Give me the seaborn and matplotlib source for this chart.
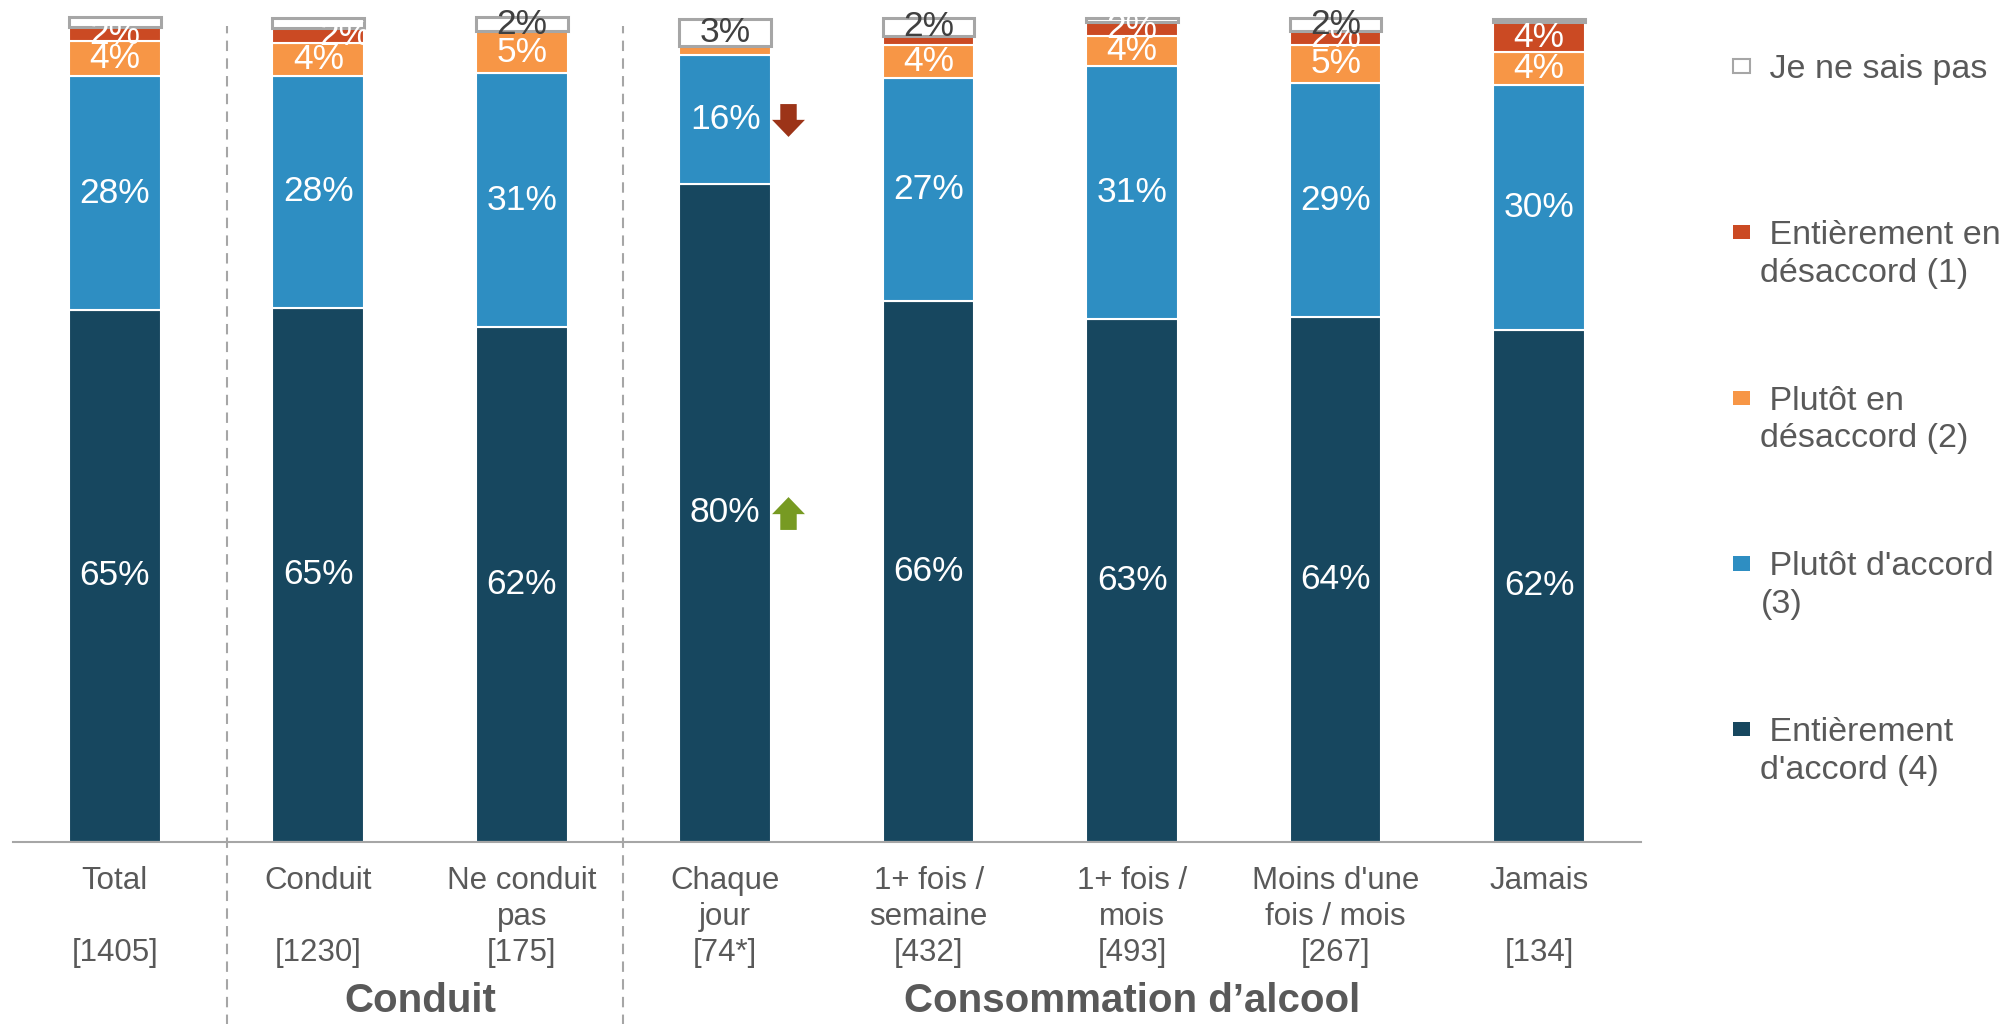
import numpy as np
import matplotlib
matplotlib.use("Agg")
import matplotlib.pyplot as plt
import matplotlib.patches as mpatches
import matplotlib.transforms as mtransforms
from matplotlib.path import Path
from matplotlib.legend_handler import HandlerPatch
import seaborn as sns

# Data (percent of respondents)
categories = ["Total", "Conduit", "Ne conduit pas", "Chaque jour",
              "1+ fois / semaine", "1+ fois / mois", "Moins d'une fois / mois", "Jamais"]
tick_labels = ["Total\n\n[1405]", "Conduit\n\n[1230]", "Ne conduit\npas\n[175]",
               "Chaque\njour\n[74*]", "1+ fois /\nsemaine\n[432]", "1+ fois /\nmois\n[493]",
               "Moins d'une\nfois / mois\n[267]", "Jamais\n\n[134]"]
entierement_accord = [64.5, 64.8, 62.4, 79.8, 65.6, 63.4, 63.6, 62.1]
plutot_accord = [28.4, 28.1, 30.9, 15.6, 27.0, 30.7, 28.5, 29.7]
plutot_desaccord = [4.2, 4.0, 5.0, 1.1, 4.0, 3.7, 4.6, 4.0]
entierement_desaccord = [1.7, 1.8, 0.0, 0.0, 1.2, 1.6, 1.7, 3.6]
ne_sais_pas = [1.2, 1.2, 1.7, 3.3, 2.1, 0.5, 1.5, 0.4]

series_names = ["Entièrement\nd'accord (4)", "Plutôt d'accord\n(3)", "Plutôt en\ndésaccord (2)",
                "Entièrement en\ndésaccord (1)", "Je ne sais pas\n"]
series_values = [entierement_accord, plutot_accord, plutot_desaccord,
                 entierement_desaccord, ne_sais_pas]
colors = ["#17475f", "#2e8ec2", "#f79646", "#cb4a23", "#ffffff"]

# groups below the axis: (label, first index, last index)
groups = [("Conduit", 1, 2), ("Consommation d\u2019alcool", 3, 7)]
separators = [0.55, 2.5]
# significance arrows: (category index, series index, direction)
signif = [(3, 1, "down"), (3, 0, "up")]

sns.set_style("white")
plt.rcParams["font.family"] = ["Liberation Sans", "DejaVu Sans"]
grey_txt = "#595959"

fig = plt.figure(figsize=(20.06, 10.24), dpi=100)
ax = fig.add_axes([0.0065, 0.178, 0.8115, 0.813])

bottom = np.zeros(len(categories))
for name, vals, col in zip(series_names, series_values, colors):
    vals = np.array(vals)
    white = col == "#ffffff"
    sns.barplot(x=categories, y=vals, bottom=bottom, color=col, saturation=1,
                width=0.45, errorbar=None, ax=ax,
                edgecolor="#a6a6a6" if white else "white",
                linewidth=2.2 if white else 1.5)
    for i, v in enumerate(vals):
        if v >= 1.5:
            dx = 0.13 if (categories[i] == "Conduit" and name.startswith("Entièrement en")) else 0
            ax.text(i + dx, bottom[i] + v / 2, f"{int(v + 0.5)}%", ha="center", va="center",
                    fontsize=25.5, color="#404040" if white else "white")
    bottom += vals

# significance arrows
down = Path([(-0.25, 0.5), (0.25, 0.5), (0.25, 0.02), (0.5, 0.02), (0, -0.5),
             (-0.5, 0.02), (-0.25, 0.02), (-0.25, 0.5)], closed=True)
up = Path([(x, -y) for x, y in down.vertices], closed=True)
for i, s, d in signif:
    base = sum(series_values[k][i] for k in range(s))
    yc = base + series_values[s][i] / 2
    ax.scatter([i + 0.31], [yc], marker=down if d == "down" else up, s=560,
               color="#9c3418" if d == "down" else "#779a22", linewidths=0, zorder=5)

ax.set_xlim(-0.5, 7.5)
ax.set_ylim(0, 101)
ax.set_yticks([])
ax.set_ylabel("")
ax.set_xticks(range(len(categories)))
ax.set_xticklabels(tick_labels, fontsize=22.5, color=grey_txt, linespacing=1.27)
ax.tick_params(axis="x", length=0, pad=17.5)
for side in ["left", "right", "top"]:
    ax.spines[side].set_visible(False)
ax.spines["bottom"].set_color("#a6a6a6")
ax.spines["bottom"].set_linewidth(1.5)

# dashed group separators
for x in separators:
    ax.axvline(x, ymin=-0.22, ymax=0.98, clip_on=False, color="#a6a6a6",
               lw=1.5, ls=(0, (5, 3.5)))

trans = mtransforms.blended_transform_factory(ax.transData, fig.transFigure)
for label, a, b in groups:
    ax.text((a + b) / 2, 0.022, label, transform=trans, ha="center", va="center",
            fontsize=29, fontweight="bold", color=grey_txt)


class ShiftedPatch(HandlerPatch):
    def create_artists(self, legend, orig_handle, xdescent, ydescent, width, height,
                       fontsize, trans):
        w, h = 0.5 * fontsize, 0.42 * fontsize
        y0 = -ydescent + (height - h) / 2 + 0.66 * fontsize
        p = mpatches.Rectangle((-xdescent, y0), w, h, facecolor=orig_handle.get_facecolor(),
                               edgecolor=orig_handle.get_edgecolor(),
                               linewidth=orig_handle.get_linewidth(), transform=trans)
        return [p]


handles = []
for name, col in zip(series_names, colors):
    white = col == "#ffffff"
    handles.append(mpatches.Patch(facecolor=col, edgecolor="#a6a6a6" if white else col,
                                  linewidth=1.5 if white else 0))
labels = [" " + n for n in series_names]
leg = fig.legend(handles[::-1], labels[::-1], loc="upper left", bbox_to_anchor=(0.864, 0.947),
                 frameon=False, fontsize=24.5, labelspacing=2.85, handlelength=0.5,
                 handletextpad=0.3, borderpad=0, borderaxespad=0,
                 handler_map={mpatches.Patch: ShiftedPatch()})
for t in leg.get_texts():
    t.set_color(grey_txt)
    t.set_linespacing(1.28)

fig.savefig("out.png", dpi=100)
